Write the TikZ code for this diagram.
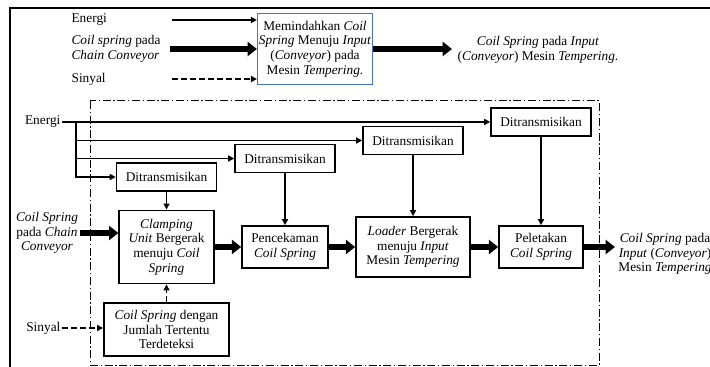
\documentclass[tikz,border=0pt]{standalone}
\usepackage{fontspec}
\setmainfont{Liberation Serif}
\usetikzlibrary{arrows.meta}
\definecolor{boxblue}{RGB}{68,114,196}
\tikzset{
  box/.style={draw, line width=1.2pt, align=center, inner sep=1pt, font=\fontsize{10}{11}\selectfont},
  txt/.style={align=center, inner sep=1pt, font=\fontsize{10}{11}\selectfont},
  energy/.style={line width=1.3pt, -{Triangle[length=4.5pt,width=4.5pt]}},
  flow/.style={line width=4.5pt, -{Triangle[length=7pt,width=10.5pt]}},
  signal/.style={energy, dash pattern=on 4.5pt off 2.25pt},
}
\def\trmbox(#1,#2,#3){
  \node[box, minimum width=75pt, minimum height=21pt] (#1) at (#2,#3) {Ditransmisikan};
}

\begin{document}
\begin{tikzpicture}[x=0.75pt, y=-0.75pt]
\useasboundingbox (0,0) rectangle (710,367);
% frame
\draw[line width=1.6pt] (10,367) -- (10,8) -- (710,8);
% legend
\node[txt, anchor=west] (lg_en) at (70,20) {Energi};
\node[txt, anchor=west, align=left] (lg_cs) at (70,49) {\textit{Coil spring} pada\\\textit{Chain Conveyor}};
\node[txt, anchor=west] (lg_sy) at (70,79) {Sinyal};
\node[box, draw=boxblue, line width=1pt, minimum width=78pt, minimum height=53pt] (mv) at (315,49)
  {Memindahkan \textit{Coil}\\\textit{Spring} Menuju \textit{Input}\\(\textit{Conveyor}) pada\\Mesin \textit{Tempering}.};
\coordinate (lg_a) at (172,20);
\coordinate (lg_b) at (170,49);
\coordinate (lg_c) at (172,79);
\draw[energy] (lg_a) -- (lg_a -| mv.west);
\draw[flow] (lg_b) -- (lg_b -| mv.west);
\draw[signal] (lg_c) -- (lg_c -| mv.west);
\coordinate (mv_out) at (452,49);
\draw[flow] (mv.east) -- (mv_out);
\node[txt] (mv_txt) at (538,50) {\textit{Coil Spring} pada \textit{Input}\\(\textit{Conveyor}) Mesin \textit{Tempering}.};
% system boundary
\draw[line width=0.75pt, dash pattern=on 6pt off 2pt on 1pt off 2pt] (90,101) rectangle (599,365);
% transmission boxes
\trmbox(d_a,166.5,177)
\trmbox(d_b,285,158.5)
\trmbox(d_c,413,140.5)
\trmbox(d_d,541,122)
% main process
\node[box, minimum width=71pt, minimum height=55pt] (clamp) at (166.5,247)
  {\textit{Clamping}\\\textit{Unit} Bergerak\\menuju \textit{Coil}\\\textit{Spring}};
\node[box, minimum width=64.5pt, minimum height=31.5pt] (pcek) at (285,247) {Pencekaman\\\textit{Coil Spring}};
\node[box, minimum width=85.5pt, minimum height=45pt] (load) at (413,247)
  {\textit{Loader} Bergerak\\menuju \textit{Input}\\Mesin \textit{Tempering}};
\node[box, minimum width=63pt, minimum height=31.5pt] (plt) at (541,247) {Peletakan\\\textit{Coil Spring}};
\node[box, minimum width=94pt, minimum height=40pt] (sens) at (166.5,329.5)
  {\textit{Coil Spring} dengan\\Jumlah Tertentu\\Terdeteksi};
% inputs
\node[txt, anchor=east] (en) at (62,122) {Energi};
\coordinate (trunk) at (76,122);
\draw[energy] (en.east) -- (d_d.west);
\draw[energy] (trunk) |- (d_c.west);
\draw[energy] (trunk) |- (d_b.west);
\draw[energy] (trunk) |- (d_a.west);
\node[txt] (in_txt) at (47,233) {\textit{Coil Spring}\\pada \textit{Chain}\\\textit{Conveyor}};
\draw[flow] (in_txt.east) -- (in_txt.east -| clamp.west);
\node[txt, anchor=east] (sy) at (62,328) {Sinyal};
\draw[signal] (sy.east) -- (sy.east -| sens.west);
\draw[signal] (sens.north) -- (clamp.south);
% energy down
\draw[energy] (d_a.south) -- (clamp.north);
\draw[energy] (d_b.south) -- (pcek.north);
\draw[energy] (d_c.south) -- (load.north);
\draw[energy] (d_d.south) -- (plt.north);
% material flow
\draw[flow] (clamp.east) -- (pcek.west);
\draw[flow] (pcek.east) -- (load.west);
\draw[flow] (load.east) -- (plt.west);
\coordinate (out) at (615,247);
\draw[flow] (plt.east) -- (out);
\node[txt] (out_txt) at (665,254) {\textit{Coil Spring} pada\\\textit{Input} (\textit{Conveyor})\\Mesin \textit{Tempering}};
\end{tikzpicture}
\end{document}
